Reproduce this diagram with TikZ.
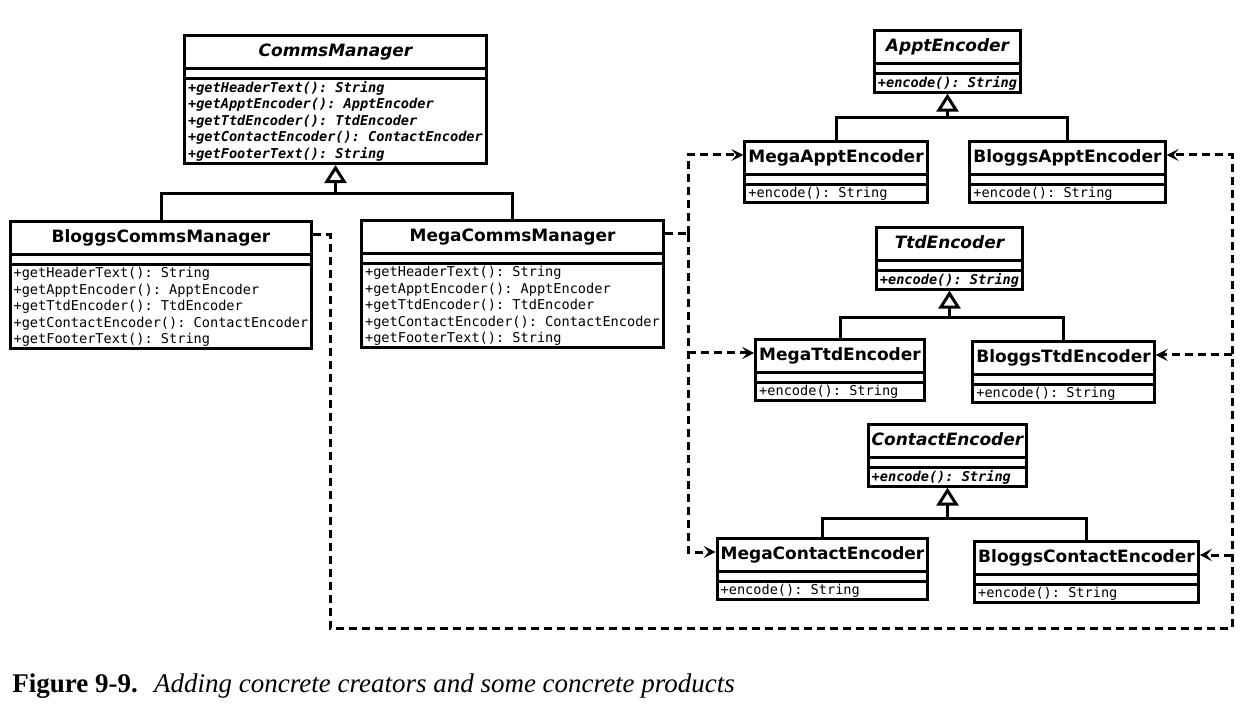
\documentclass[tikz,border=0pt]{standalone}
\usepackage{fontspec}
\setsansfont{DejaVu Sans}
\setmonofont{DejaVu Sans Mono}
\newfontfamily\captionfont{Liberation Serif}
\usepackage{tikz}
\usetikzlibrary{arrows.meta,shapes.multipart,calc}

\newcommand{\clsname}[1]{{\sffamily\bfseries\fontsize{8.5}{10}\selectfont\rule[-3.5pt]{0pt}{11.5pt}#1}}
\newcommand{\noattr}{\rule{1pt}{0pt}}
\newcommand{\ops}[1]{\raisebox{0pt}[\dimexpr\height-1.2pt\relax][\dimexpr\depth-2.5pt\relax]{%
  \vbox{\let\\\cr\baselineskip=8.3pt\halign{##\hfil\cr#1\crcr}}}}

\begin{document}
\begin{tikzpicture}[
  x=0.5pt, y=-0.5pt,
  umlclass/.style={rectangle split, rectangle split parts=3, draw,
                   line width=1.5pt, anchor=north,
                   rectangle split part align={center,left,left},
                   inner xsep=1.75pt, inner ysep=1.75pt,
                   font=\ttfamily\fontsize{6.8}{8.3}\selectfont},
  abstract/.style={umlclass,
                   font=\ttfamily\bfseries\itshape\fontsize{6.8}{8.3}\selectfont},
  gen/.style={line width=1.5pt, {Triangle[open,length=9pt,width=11pt]}-},
  link/.style={line width=1.5pt, dash pattern=on 4pt off 2.5pt},
  dep/.style={link, -{Stealth[length=6pt,width=6pt,inset=2.5pt]}}
]
  \useasboundingbox (0,0) rectangle (1259,711);

  % creators
  \node[abstract] (comms) at (335.5,34) {\clsname{CommsManager}
    \nodepart{two}\noattr
    \nodepart{three}\ops{+getHeaderText(): String\\
    +getApptEncoder(): ApptEncoder\\
    +getTtdEncoder(): TtdEncoder\\
    +getContactEncoder(): ContactEncoder\\
    +getFooterText(): String}};
  \node[umlclass] (bloggscm) at (161,220) {\clsname{BloggsCommsManager}
    \nodepart{two}\noattr
    \nodepart{three}\ops{+getHeaderText(): String\\
    +getApptEncoder(): ApptEncoder\\
    +getTtdEncoder(): TtdEncoder\\
    +getContactEncoder(): ContactEncoder\\
    +getFooterText(): String}};
  \node[umlclass] (megacm) at (512.5,219) {\clsname{MegaCommsManager}
    \nodepart{two}\noattr
    \nodepart{three}\ops{+getHeaderText(): String\\
    +getApptEncoder(): ApptEncoder\\
    +getTtdEncoder(): TtdEncoder\\
    +getContactEncoder(): ContactEncoder\\
    +getFooterText(): String}};

  % products
  \node[abstract] (apptenc) at (947.5,29) {\clsname{ApptEncoder}
    \nodepart{two}\noattr\nodepart{three}\ops{+encode(): String}};
  \node[umlclass] (megaappt) at (836,140) {\clsname{MegaApptEncoder}
    \nodepart{two}\noattr\nodepart{three}\ops{+encode(): String}};
  \node[umlclass] (bloggsappt) at (1067.5,140) {\clsname{BloggsApptEncoder}
    \nodepart{two}\noattr\nodepart{three}\ops{+encode(): String}};

  \node[abstract] (ttdenc) at (949.5,226) {\clsname{TtdEncoder}
    \nodepart{two}\noattr\nodepart{three}\ops{+encode(): String}};
  \node[umlclass] (megattd) at (840,338) {\clsname{MegaTtdEncoder}
    \nodepart{two}\noattr\nodepart{three}\ops{+encode(): String}};
  \node[umlclass] (bloggsttd) at (1063.5,340) {\clsname{BloggsTtdEncoder}
    \nodepart{two}\noattr\nodepart{three}\ops{+encode(): String}};

  \node[abstract] (contactenc) at (947.5,423) {\clsname{ContactEncoder}
    \nodepart{two}\noattr\nodepart{three}\ops{+encode(): String}};
  \node[umlclass] (megacontact) at (822.5,537) {\clsname{MegaContactEncoder}
    \nodepart{two}\noattr\nodepart{three}\ops{+encode(): String}};
  \node[umlclass] (bloggscontact) at (1086.5,540) {\clsname{BloggsContactEncoder}
    \nodepart{two}\noattr\nodepart{three}\ops{+encode(): String}};

  % inheritance
  \coordinate (cmbar) at (335.5,194);
  \coordinate (apptbar) at (947.5,118);
  \coordinate (ttdbar) at (949.5,318);
  \coordinate (contactbar) at (947.5,518);

  \draw[line width=1.5pt] (bloggscm.north) |- (cmbar) -| (megacm.north);
  \draw[gen] (comms.south) -- (comms.south |- cmbar);
  \draw[line width=1.5pt] (megaappt.north) |- (apptbar) -| (bloggsappt.north);
  \draw[gen] (apptenc.south) -- (apptenc.south |- apptbar);
  \draw[line width=1.5pt] (megattd.north) |- (ttdbar) -| (bloggsttd.north);
  \draw[gen] (ttdenc.south) -- (ttdenc.south |- ttdbar);
  \draw[line width=1.5pt] (megacontact.north) |- (contactbar) -| (bloggscontact.north);
  \draw[gen] (contactenc.south) -- (contactenc.south |- contactbar);

  % creators use their products
  \coordinate (mbus) at (688,234);
  \draw[link] ($(megacm.north east)+(0,15)$) -- (mbus);
  \draw[dep] (mbus) |- ($(megaappt.north west)+(0,15)$);
  \draw[dep] ($(mbus |- megattd.north)+(0,15)$) -- ($(megattd.north west)+(0,15)$);
  \draw[dep] (mbus) |- ($(megacontact.north west)+(0,15)$);

  \coordinate (bcorner) at (330,628);
  \coordinate (bright) at (1232,628);
  \draw[dep] ($(bloggscm.north east)+(0,15)$) -| (bcorner) -- (bright)
    |- ($(bloggsappt.north east)+(0,15)$);
  \draw[dep] ($(bright |- bloggsttd.north)+(0,15)$) -- ($(bloggsttd.north east)+(0,15)$);
  \draw[dep] ($(bright |- bloggscontact.north)+(0,15)$) -- ($(bloggscontact.north east)+(0,15)$);

  \node[anchor=base west, inner sep=0pt,
        font=\captionfont\fontsize{13.5}{16}\selectfont] (caption) at (12,692)
    {\textbf{Figure 9-9.}\hspace{0.6em}\textit{Adding concrete creators and some concrete products}};
\end{tikzpicture}
\end{document}
